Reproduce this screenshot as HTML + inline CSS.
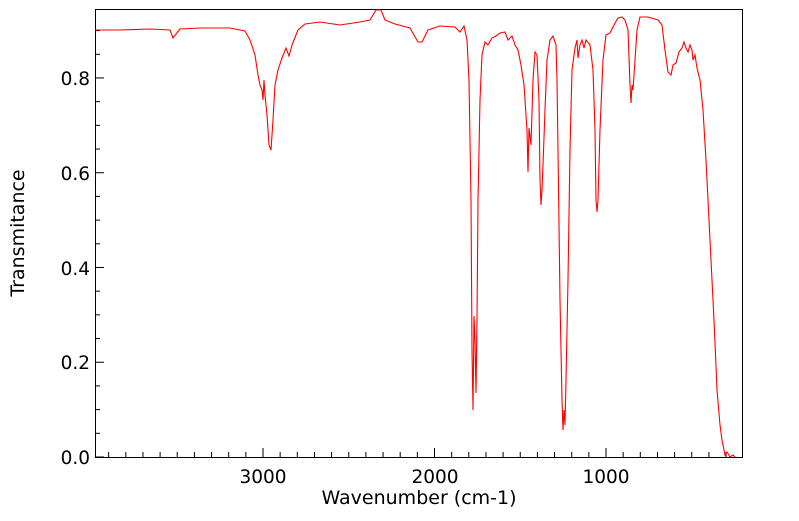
<!DOCTYPE html>
<html><head><meta charset="utf-8"><style>
html,body{margin:0;padding:0;background:#fff;}
text{font-family:"DejaVu Sans","Liberation Sans",sans-serif;font-size:18.5px;fill:#000;}
.al{font-size:19px;}
</style></head><body>
<svg width="799" height="516" viewBox="0 0 799 516" xmlns="http://www.w3.org/2000/svg">
<rect x="95.5" y="9.5" width="647" height="448" fill="none" stroke="#000" stroke-width="1"/>
<g stroke="#000" stroke-width="1" id="ticks"></g>
<polyline fill="none" stroke="#ff0000" stroke-width="1.1" points="95,30 120,30 150,29 170,30 173,38 176,34 180,29 200,28 230,28 245,31 250,40 255,55 258,75 260,85 262,90 263,100 264,80 265,95 267,115 269,145 271,150 273,120 275,85 278,70 282,58 286,48 289,56 292,45 298,30 305,24 320,22 340,25 360,22 370,20 376,10 381,10 385,20 395,24 410,28 418,42 422,42 428,30 440,26 455,27 460,32 464,26 467,40 469,80 471,200 472,350 473,410 474,316 475,340 476,393 477,320 478,200 480,100 482,55 485,42 488,45 492,38 496,36 500,33 505,32 508,40 512,36 515,45 518,50 521,65 524,85 527,130 528,172 529,128 531,145 533,80 535,52 537,55 539,100 540,180 541,205 542,190 543,165 545,110 547,60 550,40 553,36 556,45 557,80 558,150 560,300 562,400 563,430 564,410 565,425 566,380 568,280 570,150 572,70 575,48 577,40 578,58 580,45 582,40 584,48 586,40 590,45 593,70 595,130 596,200 597,212 598,200 600,130 603,60 606,35 610,33 614,25 618,18 622,17 625,20 628,30 630,85 631,103 632,85 633,90 635,60 637,30 640,17 648,17 658,20 662,25 665,50 668,72 671,75 673,65 676,63 679,52 682,48 684,42 686,48 688,52 690,45 692,50 693,60 695,55 697,68 700,80 703,110 706,160 710,240 714,320 717,390 720,425 722,440 725,455 727,452 730,457 733,455 735,457"/>
<text x="90" y="464" text-anchor="end">0.0</text>
<text x="90" y="369" text-anchor="end">0.2</text>
<text x="90" y="275" text-anchor="end">0.4</text>
<text x="90" y="180" text-anchor="end">0.6</text>
<text x="90" y="85" text-anchor="end">0.8</text>
<text x="263" y="483" text-anchor="middle">3000</text>
<text x="435" y="483" text-anchor="middle">2000</text>
<text x="606" y="483" text-anchor="middle">1000</text>
<text class="al" x="419" y="504" text-anchor="middle">Wavenumber (cm-1)</text>
<text class="al" transform="translate(24,233) rotate(-90)" text-anchor="middle">Transmitance</text>
</svg>
<script>
var g=document.getElementById('ticks'),s='';
for(var i=-10;i<=32;i++){var x=263+i*17.15;if(x<96||x>742)continue;var L=(i%10==0)?9:5;s+='<line x1="'+x+'" y1="457" x2="'+x+'" y2="'+(457-L)+'"/>';}
for(var j=0;j<=19;j++){var y=457-j*23.69;if(y<10)continue;var L=(j%4==0)?9:5;s+='<line x1="95" y1="'+y+'" x2="'+(95+L)+'" y2="'+y+'"/>';}
g.innerHTML=s;
</script>
</body></html>
